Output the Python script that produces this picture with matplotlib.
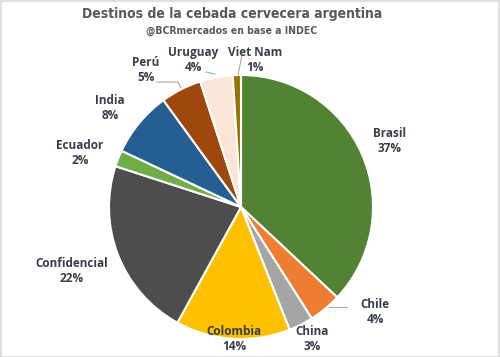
import matplotlib
matplotlib.use("Agg")
import matplotlib.pyplot as plt
from matplotlib.patches import Rectangle

categories = ["Brasil", "Chile", "China", "Colombia", "Confidencial",
              "Ecuador", "India", "Perú", "Uruguay", "Viet Nam"]
values = [37, 4, 3, 14, 22, 2, 8, 5, 4, 1]
colors = ["#548235", "#ED7D31", "#A5A5A5", "#FFC000", "#4D4D4D",
          "#70AD47", "#255E91", "#9E480E", "#FBE5D6", "#997300"]

title = "Destinos de la cebada cervecera argentina"
subtitle = "@BCRmercados en base a INDEC"

W, H = 500, 357
fig = plt.figure(figsize=(5, 3.57), dpi=100)
ax = fig.add_axes([0, 0, 1, 1])

cx, cy, r = 241, H - 207, 132
wedges, _ = ax.pie(values, colors=colors, startangle=90, counterclock=False,
                   center=(cx, cy), radius=r,
                   wedgeprops=dict(edgecolor="white", linewidth=1.5))

ax.set_xlim(0, W)
ax.set_ylim(0, H)
ax.set_aspect("equal")
ax.axis("off")

# label layout (pixel positions, y from top)
label_pos = [(390, 141), (375, 312), (312, 339), (234, 339), (72, 271),
             (80, 153), (110, 108), (146, 70), (193, 60), (255, 60)]
txtcol = "#363F4B"
for cat, v, (px, py) in zip(categories, values, label_pos):
    ax.text(px, H - py, f"{cat}\n{v}%", ha="center", va="center",
            fontsize=8.5, fontfamily="Open Sans", fontweight="bold",
            color=txtcol, linespacing=1.25)

# leader lines
lc = "#A6A6A6"
leaders = [[(329, 307), (347, 307)],
           [(157, 82), (178, 82), (181, 88)],
           [(206, 72), (215, 74)],
           [(238, 75), (242, 55)]]
for seg in leaders:
    xs = [p[0] for p in seg]
    ys = [H - p[1] for p in seg]
    ax.plot(xs, ys, color=lc, linewidth=0.8)

fig.text(232 / W, 1 - 14 / H, title, ha="center", va="center",
         fontsize=10, fontweight="bold", fontstretch="condensed",
         fontfamily="DejaVu Sans", color="#595959")
fig.text(232 / W, 1 - 31 / H, subtitle, ha="center", va="center",
         fontsize=7.5, fontweight="bold", fontstretch="condensed",
         fontfamily="DejaVu Sans", color="#595959")

fig.patches.append(Rectangle((0.5 / W, 0.5 / H), 1 - 1.5 / W, 1 - 1.5 / H,
                             transform=fig.transFigure, fill=False,
                             edgecolor="#D9D9D9", linewidth=1.2))

fig.savefig("out.png", dpi=100, facecolor="white")
